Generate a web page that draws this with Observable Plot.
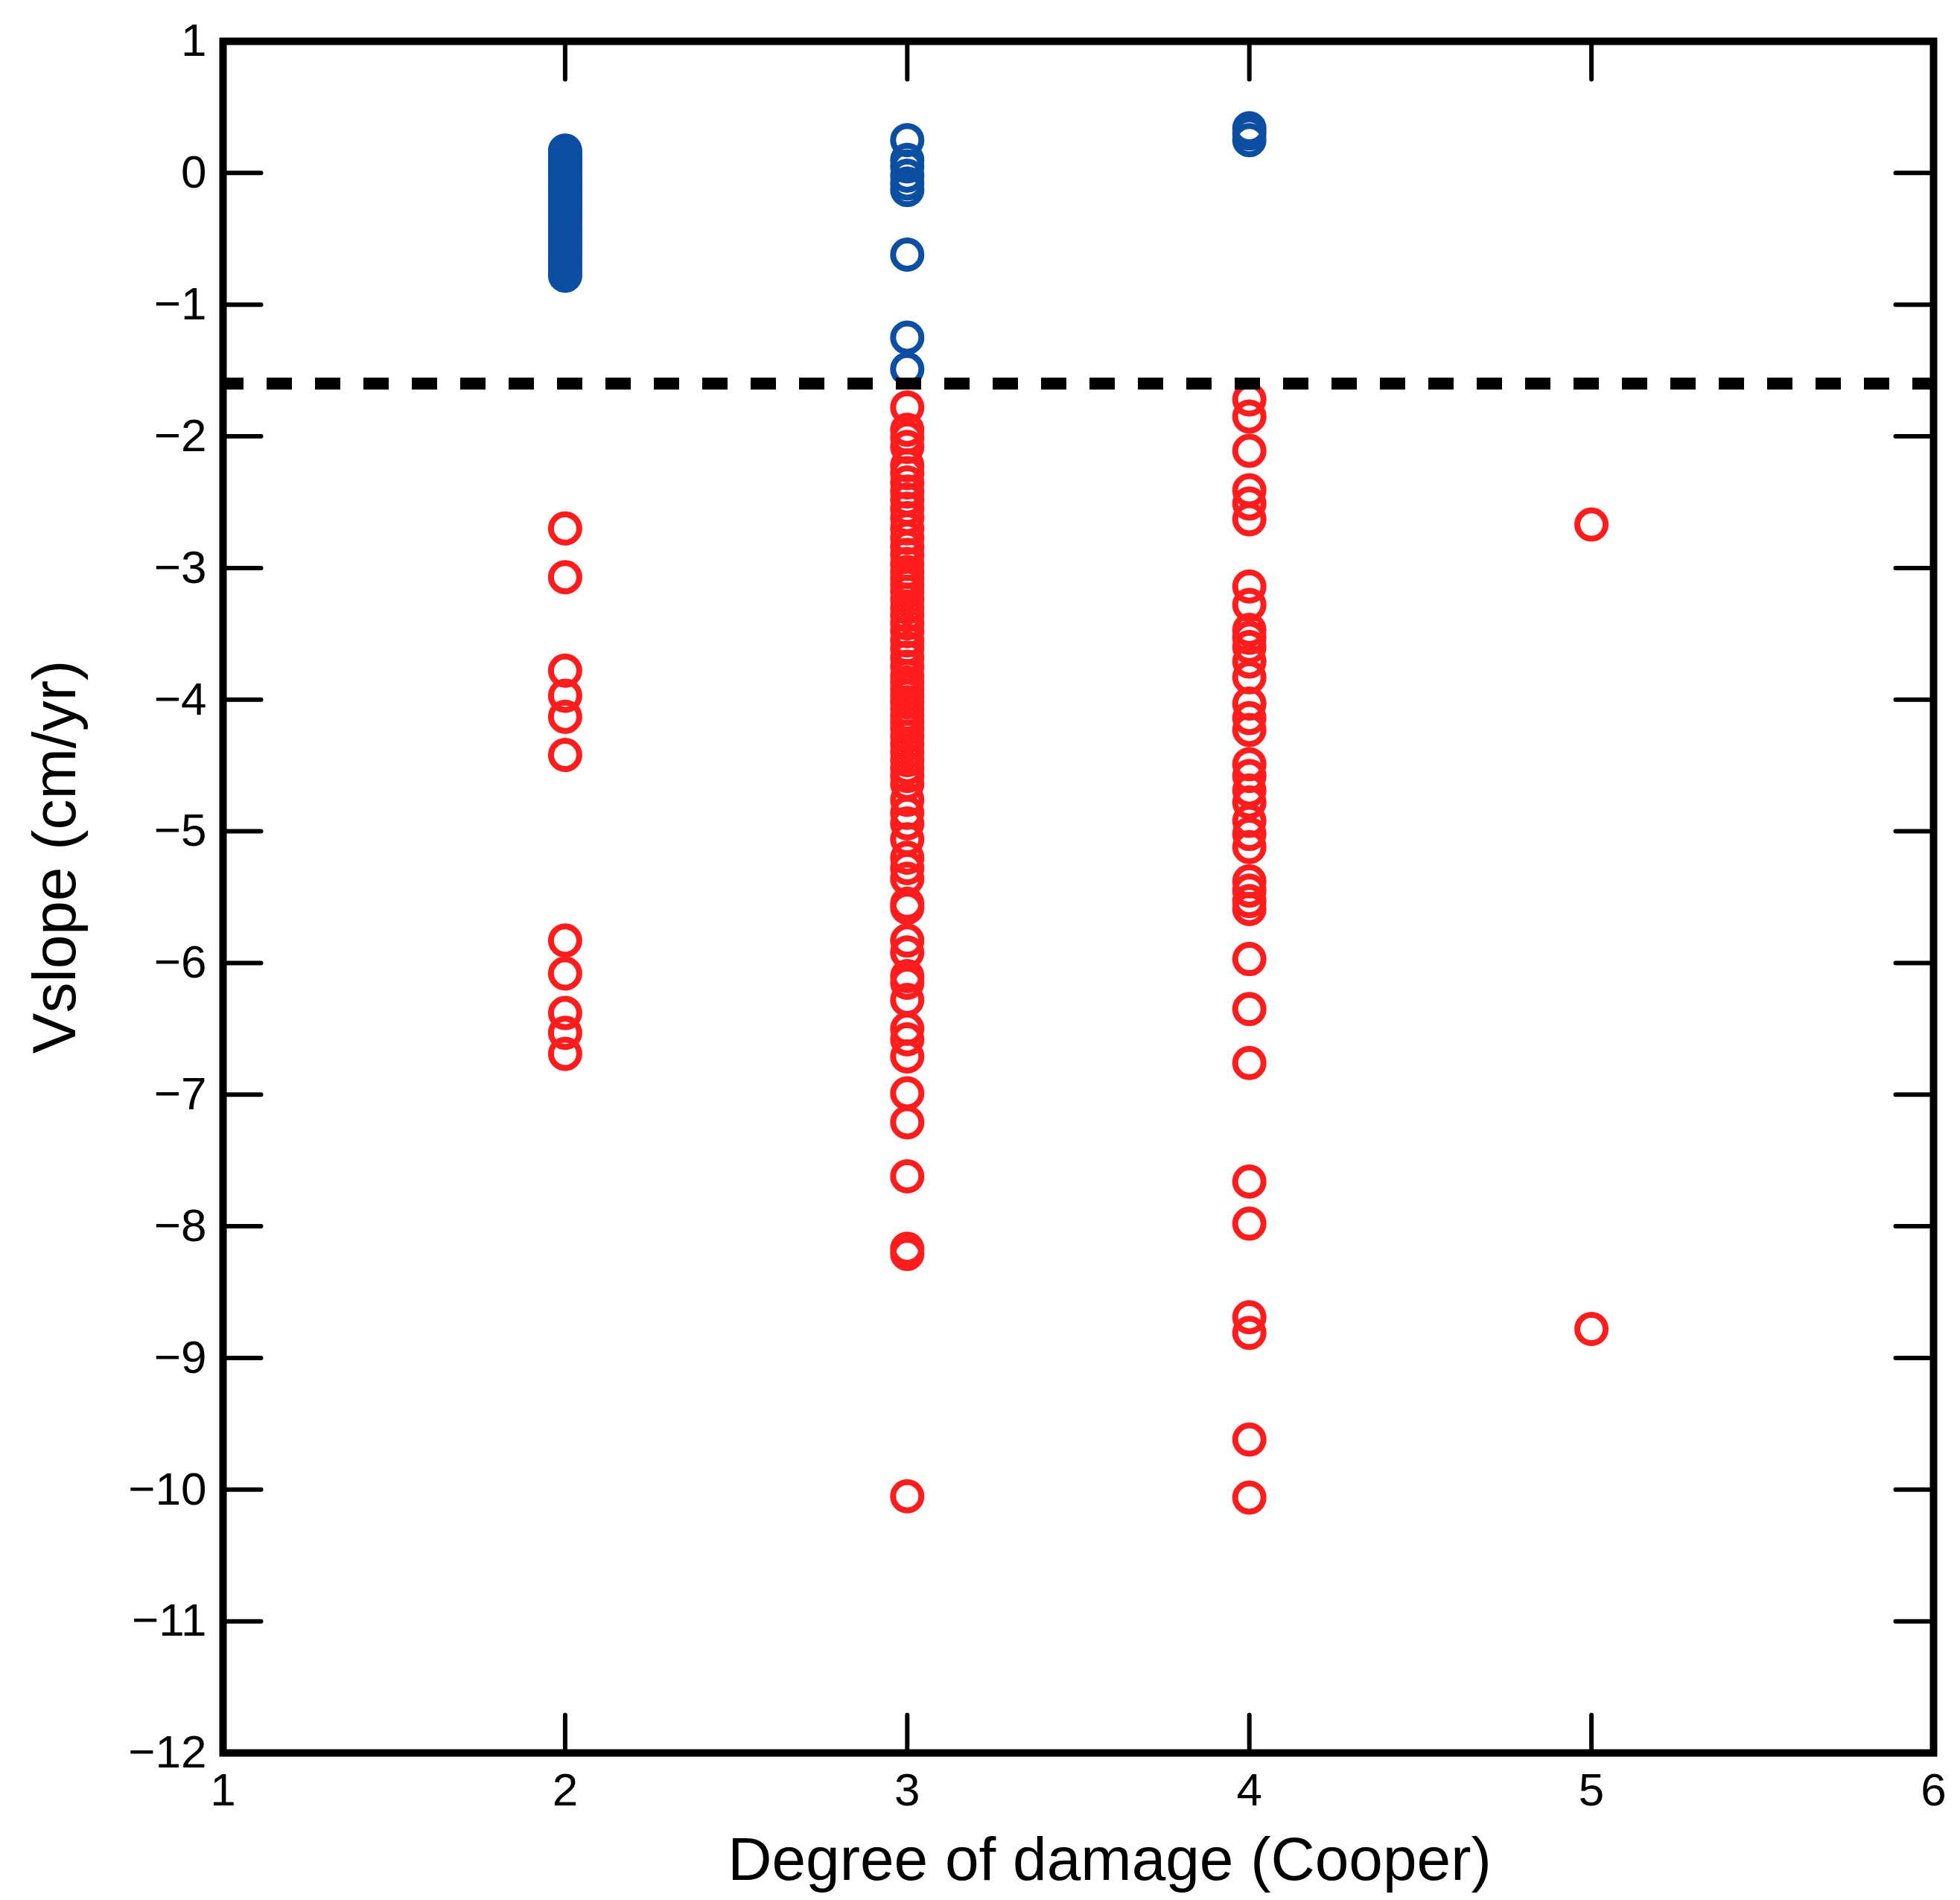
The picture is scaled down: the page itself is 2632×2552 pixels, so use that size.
<!DOCTYPE html>
<html>
<head>
<meta charset="utf-8">
<script src="https://cdn.jsdelivr.net/npm/d3@7"></script>
<script src="https://cdn.jsdelivr.net/npm/@observablehq/plot@0.6"></script>
<style>
  html, body { margin: 0; padding: 0; background: #ffffff; }
  #chart svg { display: block; }
</style>
</head>
<body>
<div id="chart"></div>
<script>
// ---- Data ----
const xTicks = [1, 2, 3, 4, 5, 6];
const yTicks = [1, 0, -1, -2, -3, -4, -5, -6, -7, -8, -9, -10, -11, -12];
const threshold = -1.6;

// Blue (above threshold) Vslope values by degree of damage
const blueDeg2 = [0.17, 0.15, 0.13, 0.11, 0.09, 0.08, 0.06, 0.04, 0.02, 0.01, -0.01, -0.03, -0.05, -0.07,
  -0.09, -0.11, -0.12, -0.14, -0.16, -0.18, -0.2, -0.22, -0.24, -0.26, -0.28, -0.3, -0.31, -0.33,
  -0.35, -0.37, -0.4, -0.42, -0.44, -0.46, -0.49, -0.51, -0.53, -0.56, -0.58, -0.61, -0.63, -0.66,
  -0.69, -0.72, -0.75, -0.78];
const blueDeg3 = [0.25, 0.1, 0.05, -0.02, -0.08, -0.13, -0.62, -1.25, -1.49];
const blueDeg4 = [0.34, 0.3, 0.25];

// Red (below threshold) Vslope values by degree of damage
const redDeg2 = [-2.7, -3.07, -3.78, -3.97, -4.13, -4.42, -5.83, -6.08, -6.38, -6.53, -6.69];
const redDeg3 = [-1.78, -1.95, -2.01, -2.08, -2.22, -2.28, -2.35, -2.42, -2.48, -2.55, -2.62, -2.7,
  -2.77, -2.84, -2.9, -2.97, -3.03, -3.08, -3.13, -3.18, -3.24, -3.3, -3.36, -3.42, -3.48, -3.55,
  -3.61, -3.68, -3.75, -3.82, -3.87, -3.92, -3.97, -4.02, -4.07, -4.12, -4.17, -4.22, -4.28, -4.34,
  -4.4, -4.46, -4.52, -4.58, -4.64, -4.76, -4.86, -4.94, -5.06, -5.2, -5.28, -5.36, -5.55, -5.58,
  -5.83, -5.92, -6.1, -6.15, -6.28, -6.5, -6.58, -6.71, -6.99, -7.21, -7.62, -8.17, -8.21, -10.05];
const redDeg4 = [-1.72, -1.85, -2.11, -2.41, -2.51, -2.63, -3.14, -3.28, -3.47, -3.53, -3.6, -3.71,
  -3.83, -4.03, -4.14, -4.23, -4.49, -4.58, -4.69, -4.78, -4.92, -5.02, -5.12, -5.38, -5.45, -5.53,
  -5.59, -5.97, -6.35, -6.76, -7.66, -7.98, -8.69, -8.81, -9.62, -10.06];
const redDeg5 = [-2.67, -8.78];

const blueColor = "#0b4ea2";
const redColor = "#ff1c1c";

// Build tidy tables from the arrays
const blue = [
  ...blueDeg2.map(v => ({deg: 2, v})),
  ...blueDeg3.map(v => ({deg: 3, v})),
  ...blueDeg4.map(v => ({deg: 4, v}))
];
const red = [
  ...redDeg2.map(v => ({deg: 2, v})),
  ...redDeg3.map(v => ({deg: 3, v})),
  ...redDeg4.map(v => ({deg: 4, v})),
  ...redDeg5.map(v => ({deg: 5, v}))
];

const fmtY = d => d < 0 ? "\u2212" + Math.abs(d) : String(d);
const tickShape = { draw(context, l) { context.moveTo(0, 0); context.lineTo(0, -l); } };
const FONT = "'Liberation Sans', Arimo, Arial, Helvetica, sans-serif";

const chart = Plot.plot({
  width: 2632,
  height: 2552,
  marginLeft: 299,
  marginRight: 36,
  marginTop: 55,
  marginBottom: 198,
  style: { fontFamily: FONT, fontSize: "62px", background: "#ffffff", color: "#000000", overflow: "visible" },
  x: { domain: [1, 6], ticks: xTicks, label: null },
  y: { domain: [-12, 1], ticks: yTicks, label: null },
  marks: [
    // tick labels
    Plot.axisX({ ticks: xTicks, tickSize: 0, tickPadding: 26, tickFormat: d => String(d), label: null, fontSize: 62 }),
    Plot.axisY({ ticks: yTicks, tickSize: 0, tickPadding: 22, tickFormat: fmtY, label: null, fontSize: 62 }),
    // inward tick marks on all four sides
    Plot.vector(yTicks.slice(1, -1), { y: d => d, frameAnchor: "left", rotate: 90, length: 51, anchor: "start", shape: tickShape, stroke: "#000", strokeWidth: 6 }),
    Plot.vector(yTicks.slice(1, -1), { y: d => d, frameAnchor: "right", rotate: -90, length: 51, anchor: "start", shape: tickShape, stroke: "#000", strokeWidth: 6 }),
    Plot.vector(xTicks.slice(1, -1), { x: d => d, frameAnchor: "bottom", rotate: 0, length: 51, anchor: "start", shape: tickShape, stroke: "#000", strokeWidth: 6 }),
    Plot.vector(xTicks.slice(1, -1), { x: d => d, frameAnchor: "top", rotate: 180, length: 51, anchor: "start", shape: tickShape, stroke: "#000", strokeWidth: 6 }),
    // points
    Plot.dot(blue, { x: "deg", y: "v", r: 19, stroke: blueColor, strokeWidth: 8, fill: "none" }),
    Plot.dot(red, { x: "deg", y: "v", r: 19, stroke: redColor, strokeWidth: 8, fill: "none" }),
    // threshold
    Plot.ruleY([threshold], { stroke: "#000", strokeWidth: 16, strokeDasharray: "34,31", strokeDashoffset: 6 }),
    // frame
    Plot.frame({ stroke: "#000", strokeWidth: 10 }),
    // axis titles
    Plot.text(["Degree of damage (Cooper)"], { frameAnchor: "bottom", lineAnchor: "bottom", textAnchor: "middle", dx: 42, dy: 170, fontSize: 82, fill: "#000" }),
    Plot.text(["Vslope (cm/yr)"], { frameAnchor: "left", rotate: -90, lineAnchor: "top", textAnchor: "middle", dx: -257, dy: -54, fontSize: 82, fill: "#000" })
  ]
});

document.getElementById("chart").appendChild(chart);
</script>
</body>
</html>
